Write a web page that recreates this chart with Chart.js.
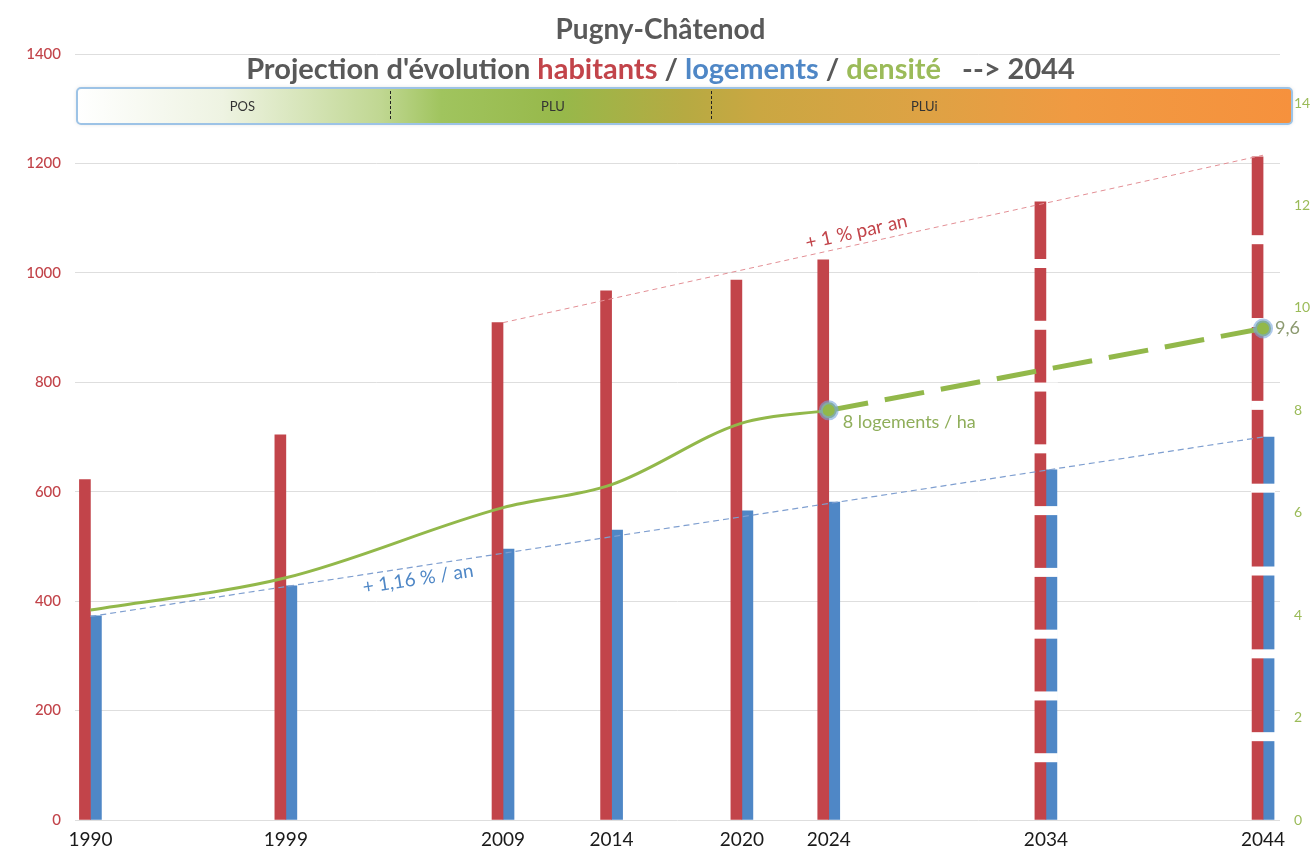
<!DOCTYPE html>
<html lang="fr">
<head>
<meta charset="utf-8">
<title>Pugny-Châtenod</title>
<script src="https://cdn.jsdelivr.net/npm/chart.js@4.4.1/dist/chart.umd.min.js"></script>
<style>
    html, body { margin: 0; padding: 0; background: #fff; overflow: hidden; }
    #wrap { width: 1315px; height: 848px; }
</style>
</head>
<body>
<div id="wrap"><canvas id="chart" width="1315" height="848"></canvas></div>
<script>
// --- data ---
const years = [1990, 1999, 2009, 2014, 2020, 2024, 2034, 2044];
const habitants = [622, 704, 909, 967, 987, 1024, 1130, 1212];
const logements = [373, 428, 495, 530, 565, 581, 640, 700];

const densityYears = [1990, 1999, 2009, 2014, 2020, 2024];
const density = [4.1, 4.73, 6.1, 6.55, 7.75, 8.0];
const densityProjYears = [2024, 2034, 2044];
const densityProj = [8.0, 8.8, 9.6];
const markerYears = [2024, 2044];

const habTrendYears = [2009, 2044];
const habTrend = [909, 1215];
const logTrendYears = [1990, 2044];
const logTrend = [372, 700];

const projectedYears = [2034, 2044];
const projectedSegments = [10, 8];

const leftTicks = [0, 200, 400, 600, 800, 1000, 1200, 1400];
const rightTicks = [0, 2, 4, 6, 8, 10, 12, 14];

const phases = ['POS', 'PLU', 'PLUi'];
const phaseBreaks = [2003.8, 2018.6];
const phaseLabelYears = [1997, 2011.3, 2028.4];

const RED = '#c2444a';
const BLUE = '#4f87c6';
const GREEN = '#92b84a';
const FONT = 'Lato, "Open Sans", sans-serif';

const xy = (xs, ys) => xs.map((x, i) => ({ x: x, y: ys[i] }));

// white breaks across the projected bars, drawn once both bar sets are painted
function drawBarBreaks(chart) {
    const ctx = chart.ctx;
    const red = chart.getDatasetMeta(0).data;
    const blue = chart.getDatasetMeta(1).data;
    ctx.save();
    ctx.fillStyle = '#ffffff';
    projectedYears.forEach((yr, j) => {
        const i = years.indexOf(yr);
        const r = red[i], b = blue[i];
        const x0 = r.x - r.width / 2 - 1;
        const x1 = b.x + b.width / 2 + 1;
        const top = r.y, base = r.base;
        const n = projectedSegments[j];
        for (let k = 1; k < n; k++) {
            const yc = base - k * (base - top) / n;
            ctx.fillRect(x0, yc - 4.5, x1 - x0, 9);
        }
    });
    ctx.restore();
}

function drawBand(chart) {
    const ctx = chart.ctx;
    const xs = chart.scales.x;
    const area = chart.chartArea;
    const x0 = area.left + 2, x1 = area.right + 12;
    const y0 = 88, h = 36;
    ctx.save();
    const g = ctx.createLinearGradient(x0, 0, x1, 0);
    g.addColorStop(0, '#ffffff');
    g.addColorStop(0.12, '#eef3e2');
    g.addColorStop(0.25, '#c0d792');
    g.addColorStop(0.30, '#a0c45e');
    g.addColorStop(0.40, '#97b84a');
    g.addColorStop(0.50, '#b6aa42');
    g.addColorStop(0.56, '#caa742');
    g.addColorStop(0.70, '#dea244');
    g.addColorStop(0.82, '#f09a42');
    g.addColorStop(1, '#f6913d');
    ctx.shadowColor = 'rgba(0,0,0,0.15)';
    ctx.shadowBlur = 4;
    ctx.beginPath();
    ctx.roundRect(x0, y0, x1 - x0, h, 4);
    ctx.fillStyle = g;
    ctx.fill();
    ctx.shadowColor = 'transparent';
    ctx.lineWidth = 2;
    ctx.strokeStyle = '#9dc3e6';
    ctx.stroke();

    ctx.setLineDash([3, 2]);
    ctx.lineWidth = 1;
    ctx.strokeStyle = '#222';
    phaseBreaks.forEach(yr => {
        const px = Math.round(xs.getPixelForValue(yr)) + 0.5;
        ctx.beginPath();
        ctx.moveTo(px, y0 + 3);
        ctx.lineTo(px, y0 + h - 3);
        ctx.stroke();
    });
    ctx.setLineDash([]);

    ctx.fillStyle = '#333';
    ctx.font = '13px ' + FONT;
    ctx.textAlign = 'center';
    ctx.textBaseline = 'middle';
    phases.forEach((p, i) => {
        ctx.fillText(p, xs.getPixelForValue(phaseLabelYears[i]), y0 + h / 2 + 1);
    });
    ctx.restore();
}

function drawTitle(chart) {
    const ctx = chart.ctx;
    const cx = chart.width / 2 + 3;
    ctx.save();
    ctx.textBaseline = 'middle';
    ctx.textAlign = 'center';
    ctx.fillStyle = '#595959';
    ctx.font = 'bold 28px ' + FONT;
    ctx.fillText('Pugny-Châtenod', cx, 30);

    const parts = [
        ["Projection d'évolution ", '#595959'],
        ['habitants', RED],
        [' / ', '#595959'],
        ['logements', BLUE],
        [' / ', '#595959'],
        ['densité', '#9bbb59'],
        ['   --> 2044', '#595959']
    ];
    ctx.font = 'bold 29px ' + FONT;
    ctx.textAlign = 'left';
    const total = parts.reduce((s, p) => s + ctx.measureText(p[0]).width, 0);
    let x = cx - total / 2;
    parts.forEach(p => {
        ctx.fillStyle = p[1];
        ctx.fillText(p[0], x, 70);
        x += ctx.measureText(p[0]).width;
    });
    ctx.restore();
}

function drawNotes(chart) {
    const ctx = chart.ctx;
    const xs = chart.scales.x, y = chart.scales.y, y2 = chart.scales.y2;
    ctx.save();

    // density notes
    ctx.textBaseline = 'middle';
    ctx.textAlign = 'left';
    ctx.font = '18px ' + FONT;
    ctx.fillStyle = '#8fae5a';
    ctx.fillText('8 logements / ha', xs.getPixelForValue(2024) + 14, y2.getPixelForValue(8) + 12);
    ctx.fillStyle = '#8c9a70';
    ctx.fillText('9,6', xs.getPixelForValue(2044) + 12, y2.getPixelForValue(9.6));

    // trend notes, rotated along their lines
    const along = (tx, ty, at, text, color, below) => {
        const ax = xs.getPixelForValue(tx[0]), ay = y.getPixelForValue(ty[0]);
        const bx = xs.getPixelForValue(tx[1]), by = y.getPixelForValue(ty[1]);
        const t = (at - tx[0]) / (tx[1] - tx[0]);
        const px = ax + t * (bx - ax), py = ay + t * (by - ay);
        ctx.save();
        ctx.translate(px, py);
        ctx.rotate(Math.atan2(by - ay, bx - ax));
        ctx.fillStyle = color;
        ctx.font = '19px ' + FONT;
        ctx.textAlign = 'center';
        ctx.textBaseline = below ? 'top' : 'bottom';
        ctx.fillText(text, 0, below ? 3 : -3);
        ctx.restore();
    };
    along(habTrendYears, habTrend, 2025.4, '+ 1 % par an', RED, false);
    along(logTrendYears, logTrend, 2005.0, '+ 1,16 % / an', BLUE, true);
    ctx.restore();
}

const decor = {
    id: 'decor',
    beforeDatasetsDraw(chart) {
        drawBand(chart);
    },
    afterDatasetDraw(chart, args) {
        // equal order: index 1 is painted before index 0
        if (args.index === 0) drawBarBreaks(chart);
    },
    afterDraw(chart) {
        drawNotes(chart);
        drawTitle(chart);
    }
};

new Chart(document.getElementById('chart'), {
    type: 'bar',
    data: {
        datasets: [
            {
                label: 'habitants',
                data: xy(years, habitants),
                backgroundColor: RED,
                barThickness: 11,
                order: 3,
                yAxisID: 'y'
            },
            {
                label: 'logements',
                data: xy(years, logements),
                backgroundColor: BLUE,
                barThickness: 11,
                order: 3,
                yAxisID: 'y'
            },
            {
                type: 'line',
                label: 'tendance habitants',
                data: xy(habTrendYears, habTrend),
                borderColor: '#e38f95',
                borderWidth: 1,
                borderDash: [5, 4],
                pointRadius: 0,
                order: 2,
                yAxisID: 'y'
            },
            {
                type: 'line',
                label: 'tendance logements',
                data: xy(logTrendYears, logTrend),
                borderColor: '#7f9fd0',
                borderWidth: 1.2,
                borderDash: [6, 4],
                pointRadius: 0,
                order: 2,
                yAxisID: 'y'
            },
            {
                type: 'line',
                label: 'densité',
                data: xy(densityYears, density),
                borderColor: GREEN,
                borderWidth: 3,
                cubicInterpolationMode: 'monotone',
                pointRadius: 0,
                order: 1,
                yAxisID: 'y2'
            },
            {
                type: 'line',
                label: 'densité projetée',
                data: xy(densityProjYears, densityProj),
                borderColor: GREEN,
                borderWidth: 5,
                borderDash: [40, 17],
                pointRadius: c => markerYears.includes(c.raw.x) ? 8 : 0,
                pointBackgroundColor: GREEN,
                pointBorderColor: 'rgba(120,165,220,0.6)',
                pointBorderWidth: 4,
                order: 0,
                yAxisID: 'y2'
            }
        ]
    },
    options: {
        responsive: false,
        animation: false,
        layout: { padding: { top: 54, left: 0, right: 0, bottom: 0 } },
        plugins: {
            legend: { display: false },
            tooltip: { enabled: false },
            title: { display: false }
        },
        scales: {
            x: {
                type: 'linear',
                offset: false,
                min: 1989.29,
                max: 2044.78,
                grid: { display: false },
                border: { display: false },
                afterBuildTicks: s => { s.ticks = years.map(v => ({ value: v })); },
                afterFit: s => { s.height = 28; },
                ticks: {
                    autoSkip: false,
                    maxRotation: 0,
                    padding: 0,
                    color: '#1a1a1a',
                    font: { size: 19, family: FONT },
                    callback: v => String(v)
                }
            },
            y: {
                position: 'left',
                min: 0,
                max: 1400,
                afterBuildTicks: s => { s.ticks = leftTicks.map(v => ({ value: v })); },
                afterFit: s => { s.width = 75; },
                grid: { color: '#dedede', drawTicks: false },
                border: { display: false },
                ticks: {
                    padding: 14,
                    color: RED,
                    font: { size: 15, family: FONT, weight: '500' },
                    callback: v => String(v)
                }
            },
            y2: {
                position: 'right',
                min: 0,
                max: 14.96,
                afterBuildTicks: s => { s.ticks = rightTicks.map(v => ({ value: v })); },
                afterFit: s => { s.width = 35; },
                grid: { display: false, drawTicks: false },
                border: { display: false },
                ticks: {
                    padding: 14,
                    color: '#9bbb59',
                    font: { size: 14, family: FONT },
                    callback: v => String(v)
                }
            }
        }
    },
    plugins: [decor]
});
</script>
</body>
</html>
